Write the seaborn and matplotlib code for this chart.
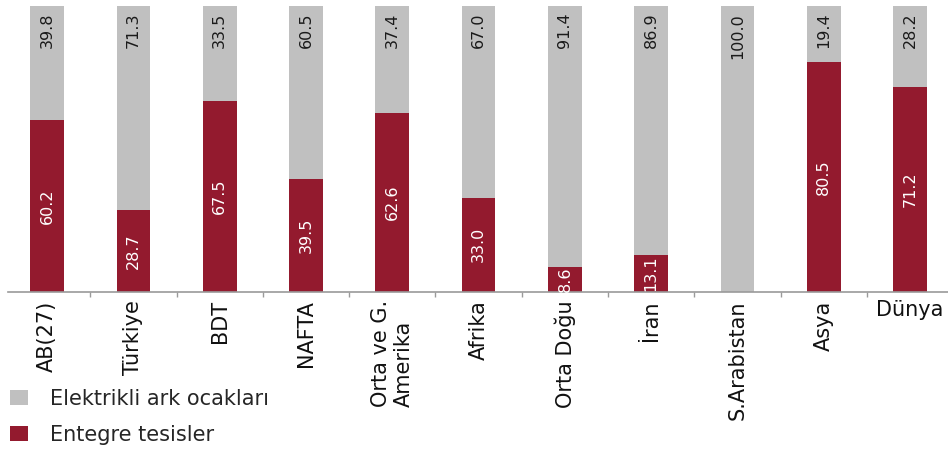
import matplotlib
matplotlib.use("Agg")
import matplotlib.pyplot as plt
from matplotlib.patches import Patch
from matplotlib.transforms import ScaledTranslation
import numpy as np
import pandas as pd
import seaborn as sns

# Steel production share by process route (%)
regions = ["AB(27)", "Türkiye", "BDT", "NAFTA", "Orta ve G.\nAmerika", "Afrika",
           "Orta Doğu", "İran", "S.Arabistan", "Asya", "Dünya"]
entegre = [60.2, 28.7, 67.5, 39.5, 62.6, 33.0, 8.6, 13.1, 0.0, 80.5, 71.2]
ark_ocagi = [39.8, 71.3, 33.5, 60.5, 37.4, 67.0, 91.4, 86.9, 100.0, 19.4, 28.2]

legend_ark = "Elektrikli ark ocakları"
legend_entegre = "Entegre tesisler"

RED = "#931a2e"
GRAY = "#c0c0c0"

sns.set_theme(style="white")
plt.rcParams["font.family"] = ["DejaVu Sans"]

# 100 % stacked: each bar is scaled to the sum of its two shares
df = pd.DataFrame({"bolge": regions, "entegre": entegre, "ark": ark_ocagi})
df["toplam"] = df["entegre"] + df["ark"]
df["entegre_pay"] = df["entegre"] / df["toplam"] * 100
df["tam"] = df["toplam"] / df["toplam"] * 100

fig = plt.figure(figsize=(9.48, 4.5), dpi=100)
W, H = 948, 450
ax_left, ax_right, ax_top, ax_bottom = 8, 948, 6, 292
ax = fig.add_axes([ax_left / W, 1 - ax_bottom / H,
                   (ax_right - ax_left) / W, (ax_bottom - ax_top) / H])

bar_w = 0.39
sns.barplot(data=df, x="bolge", y="tam", order=regions, color=GRAY,
            saturation=1, width=bar_w, ax=ax, errorbar=None, linewidth=0)
sns.barplot(data=df, x="bolge", y="entegre_pay", order=regions, color=RED,
            saturation=1, width=bar_w, ax=ax, errorbar=None, linewidth=0)

ax.set_xlim(-0.454, 10.44)
ax.set_ylim(0, 100)
ax.set_xlabel("")
ax.set_ylabel("")
ax.set_yticks([])

# value labels: red share centred in its segment, grey share at the top
for i, (r, g, rp) in enumerate(zip(entegre, ark_ocagi, df["entegre_pay"])):
    if r > 0:
        ax.text(i, rp / 2, f"{r:.1f}", rotation=90, ha="center", va="center",
                color="white", fontsize=11.5)
    ax.text(i, 100 - 2.4, f"{g:.1f}", rotation=90, ha="center", va="top",
            color="#1a1a1a", fontsize=11.5)

# category labels
ax.set_xticks(range(len(regions)))
ax.set_xticklabels(regions, rotation=90, ha="center", va="top", fontsize=15,
                   color="#111111")
for lbl in ax.get_xticklabels():
    lbl.set_multialignment("left")
    if lbl.get_text() == "Dünya":
        lbl.set_rotation(0)
        lbl.set_transform(lbl.get_transform()
                          + ScaledTranslation(0.04, 0, fig.dpi_scale_trans))
ax.tick_params(axis="x", which="major", length=0, pad=6)
ax.set_xticks(np.arange(0.5, len(regions) - 0.5, 1), minor=True)
ax.tick_params(axis="x", which="minor", bottom=True, length=3.8, width=1,
               color="#9a9a9a", direction="out")

for side in ["top", "left", "right"]:
    ax.spines[side].set_visible(False)
ax.spines["bottom"].set_color("#9a9a9a")
ax.spines["bottom"].set_linewidth(1.2)

handles = [Patch(facecolor=GRAY, edgecolor="none", label=legend_ark),
           Patch(facecolor=RED, edgecolor="none", label=legend_entegre)]
fig.legend(handles=handles, loc="upper left",
           bbox_to_anchor=(10 / W, 1 - 389 / H), frameon=False, fontsize=15,
           handlelength=0.87, handleheight=0.75, handletextpad=1.05,
           labelspacing=0.75, borderpad=0, borderaxespad=0)

fig.savefig("out.png", dpi=100)
